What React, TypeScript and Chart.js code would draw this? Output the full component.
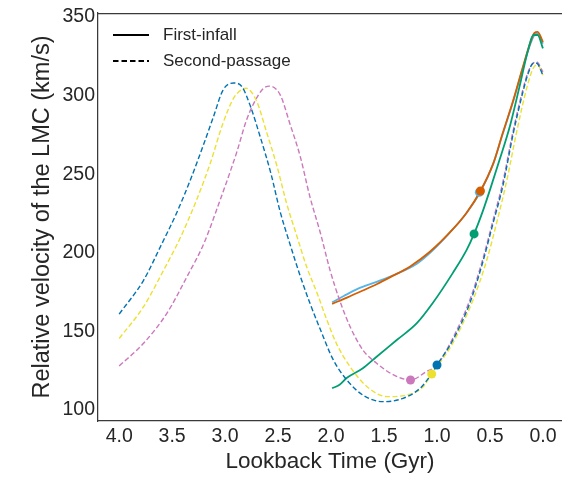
import React, { useEffect, useRef } from "react";
import { Chart, registerables } from "chart.js";

Chart.register(...registerables);

// ---- Data ----
const xTicks = [0.0, 0.5, 1.0, 1.5, 2.0, 2.5, 3.0, 3.5, 4.0];
const yTicks = [100, 150, 200, 250, 300, 350];

// First-infall (solid)
const lightBlueX = [1.99, 1.88, 1.75, 1.57, 1.4, 1.19, 1.04, 0.85, 0.72, 0.59, 0.47, 0.38, 0.28, 0.19, 0.12, 0.08, 0.05, 0.0];
const lightBlueY = [168.5, 172.5, 177, 181.5, 186, 193, 201.5, 215, 225.5, 238.8, 256.5, 275.5, 296.5, 317.5, 332.5, 338.5, 339.5, 333];

const orangeX = [1.99, 1.85, 1.7, 1.57, 1.44, 1.25, 1.07, 0.85, 0.72, 0.59, 0.47, 0.38, 0.28, 0.19, 0.12, 0.08, 0.05, 0.0];
const orangeY = [167.5, 171.5, 176, 180, 184.5, 191.5, 200.5, 215, 225.5, 239.3, 256.5, 276, 297, 318, 333.5, 339.8, 340.5, 334];

const greenX = [1.99, 1.92, 1.85, 1.7, 1.57, 1.38, 1.19, 1.04, 0.85, 0.72, 0.65, 0.57, 0.5, 0.41, 0.31, 0.22, 0.14, 0.09, 0.05, 0.0];
const greenY = [113.8, 116, 120.5, 126.5, 133.9, 144.5, 155.2, 168, 187.2, 201.8, 212, 226, 240, 259, 281, 306, 329, 338.5, 338.5, 330];

// Second-passage (dashed)
const blueX = [4.0, 3.77, 3.61, 3.46, 3.33, 3.2, 3.11, 3.02, 2.92, 2.84, 2.76, 2.67, 2.57, 2.48, 2.39, 2.29, 2.2, 2.1, 1.98, 1.85, 1.7, 1.51, 1.32, 1.16, 1.07, 1.0, 0.85, 0.69, 0.57, 0.47, 0.38, 0.28, 0.19, 0.14, 0.09, 0.06, 0.0];
const blueY = [161, 182.5, 204, 225, 246, 269.5, 286.5, 303.5, 308, 305.5, 293, 274, 251, 226, 206, 185, 168, 151, 132, 119, 109.5, 105.3, 107.4, 113.8, 121.2, 128.6, 144.5, 168, 193.5, 219, 242, 276, 302, 314, 320.5, 320.5, 313];

const yellowX = [4.0, 3.77, 3.58, 3.42, 3.27, 3.14, 3.02, 2.92, 2.84, 2.8, 2.7, 2.61, 2.51, 2.42, 2.32, 2.23, 2.13, 2.04, 1.95, 1.82, 1.66, 1.47, 1.29, 1.13, 1.05, 0.85, 0.66, 0.53, 0.43, 0.34, 0.25, 0.15, 0.09, 0.05, 0.0];
const yellowY = [145.5, 165.7, 189, 210, 233.5, 257, 282.4, 298.3, 304, 304.6, 296, 277, 255, 231.5, 210, 191, 174, 157.3, 142.4, 127.5, 114.8, 108.5, 109.5, 114.8, 122.9, 142.6, 170, 195.4, 220.9, 246.3, 276.2, 305.5, 317.6, 319.5, 313];

const pinkX = [4.0, 3.77, 3.55, 3.36, 3.2, 3.05, 2.95, 2.89, 2.8, 2.73, 2.64, 2.58, 2.48, 2.39, 2.29, 2.2, 2.1, 2.01, 1.92, 1.82, 1.7, 1.57, 1.41, 1.25, 1.1, 1.0, 0.85, 0.69, 0.57, 0.47, 0.38, 0.28, 0.19, 0.14, 0.09, 0.06, 0.0];
const pinkY = [128, 142.4, 161.5, 184.8, 206, 233, 252, 264, 284, 295, 304.5, 306, 300.4, 282.4, 261, 235.7, 212.4, 189, 170, 153, 138.2, 129.7, 122.3, 119.1, 124.4, 128.6, 145.8, 170, 195.4, 220.9, 244.4, 278, 303.6, 315, 320.7, 321.4, 315];

// Markers
const markerNames = ["lightBlue", "orange", "green", "blue", "yellow", "pink"];
const markerX = [0.6, 0.59, 0.65, 1.0, 1.05, 1.25];
const markerY = [238.5, 239.3, 212, 128.6, 122.9, 119.1];

const legendLabels = ["First-infall", "Second-passage"];

const COLORS: Record<string, string> = {
  lightBlue: "#56b4e9",
  orange: "#d55e00",
  green: "#029e73",
  blue: "#0173b2",
  yellow: "#ece133",
  pink: "#cc78bc",
};

const FONT = "'Liberation Sans', Arial, Helvetica, sans-serif";
const TEXT = "#262626";
const SPINE = "#3a3a3a";

function pts(xs: number[], ys: number[]) {
  return xs.map((x, i) => ({ x, y: ys[i] }));
}

const extras = {
  id: "extras",
  afterDraw(chart: any) {
    const { ctx, chartArea } = chart;
    ctx.save();
    // top spine
    ctx.strokeStyle = SPINE;
    ctx.lineWidth = 1.25;
    ctx.beginPath();
    ctx.moveTo(chartArea.left, chartArea.top + 0.5);
    ctx.lineTo(chartArea.right, chartArea.top + 0.5);
    ctx.stroke();
    // legend
    const lx0 = chartArea.left + 15;
    const lx1 = lx0 + 36;
    const rows = [35, 61];
    ctx.strokeStyle = "#000";
    ctx.lineWidth = 1.8;
    legendLabels.forEach((label, i) => {
      ctx.setLineDash(i === 0 ? [] : [5.5, 3]);
      ctx.beginPath();
      ctx.moveTo(lx0, rows[i]);
      ctx.lineTo(lx1, rows[i]);
      ctx.stroke();
      ctx.setLineDash([]);
      ctx.fillStyle = TEXT;
      ctx.font = `17px ${FONT}`;
      ctx.textBaseline = "middle";
      ctx.textAlign = "left";
      ctx.fillText(label, lx1 + 14, rows[i]);
    });
    ctx.restore();
  },
};

export default function App() {
  const ref = useRef<HTMLCanvasElement | null>(null);
  useEffect(() => {
    if (!ref.current) return;
    const solid = (key: string, xs: number[], ys: number[], order: number) => ({
      type: "line" as const,
      data: pts(xs, ys),
      borderColor: COLORS[key],
      backgroundColor: COLORS[key],
      borderWidth: 1.8,
      pointRadius: 0,
      fill: false,
      cubicInterpolationMode: "monotone" as const,
      order,
    });
    const dashed = (key: string, xs: number[], ys: number[], order: number) => ({
      ...solid(key, xs, ys, order),
      borderWidth: 1.4,
      borderDash: [5, 2.6],
    });
    const markers = markerNames.map((key, i) => ({
      type: "scatter" as const,
      data: [{ x: markerX[i], y: markerY[i] }],
      backgroundColor: COLORS[key],
      borderColor: COLORS[key],
      pointRadius: 4.5,
      borderWidth: 0,
      order: 6 - i,
    }));
    const chart = new Chart(ref.current, {
      type: "line",
      data: {
        datasets: [
          solid("lightBlue", lightBlueX, lightBlueY, 20),
          solid("orange", orangeX, orangeY, 19),
          solid("green", greenX, greenY, 18),
          dashed("pink", pinkX, pinkY, 17),
          dashed("yellow", yellowX, yellowY, 16),
          dashed("blue", blueX, blueY, 15),
          ...markers,
        ] as any,
      },
      options: {
        animation: false,
        responsive: false,
        events: [],
        layout: { autoPadding: false, padding: { top: 13, left: 0, right: 0, bottom: 0 } },
        plugins: { legend: { display: false }, tooltip: { enabled: false } },
        scales: {
          x: {
            type: "linear",
            reverse: true,
            min: -0.18,
            max: 4.2,
            afterFit: (s: any) => {
              s.height = 56;
              s.paddingLeft = 0;
              s.paddingRight = 0;
            },
            afterBuildTicks: (s: any) => {
              s.ticks = xTicks.map((v) => ({ value: v }));
            },
            grid: { display: false, drawTicks: false },
            border: { display: true, color: SPINE, width: 1.25 },
            ticks: {
              color: TEXT,
              font: { family: FONT, size: 19.5 },
              padding: 4,
              maxRotation: 0,
              autoSkip: false,
              callback: (v: any) => Number(v).toFixed(1),
            },
            title: {
              display: true,
              text: "Lookback Time (Gyr)",
              color: TEXT,
              font: { family: FONT, size: 22.5 },
              padding: { top: 0, bottom: 2 },
            },
          },
          y: {
            type: "linear",
            min: 93,
            max: 352.5,
            afterFit: (s: any) => {
              s.width = 98;
              s.paddingTop = 0;
              s.paddingBottom = 0;
            },
            afterBuildTicks: (s: any) => {
              s.ticks = yTicks.map((v) => ({ value: v }));
            },
            grid: { display: false, drawTicks: false },
            border: { display: true, color: SPINE, width: 1.25 },
            ticks: {
              color: TEXT,
              font: { family: FONT, size: 19.5 },
              padding: 3,
              autoSkip: false,
              callback: (v: any) => String(v),
            },
            title: {
              display: true,
              text: "Relative velocity of the LMC (km/s)",
              color: TEXT,
              font: { family: FONT, size: 23.5 },
              padding: { top: 28, bottom: 0 },
            },
          },
        },
      },
      plugins: [extras],
    });
    return () => chart.destroy();
  }, []);
  return (
    <div style={{ position: "fixed", left: 0, top: 0, width: 562, height: 477, background: "#fff" }}>
      <canvas ref={ref} width={562} height={477} style={{ display: "block" }} />
    </div>
  );
}
